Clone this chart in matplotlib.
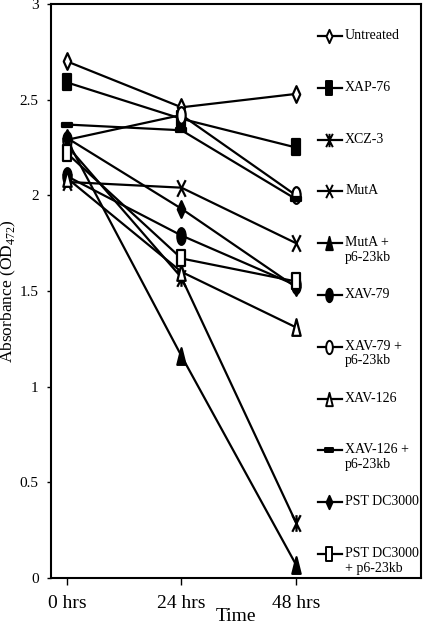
import numpy as np
import matplotlib
matplotlib.use("Agg")
import matplotlib.pyplot as plt
from matplotlib.path import Path
from matplotlib.transforms import Affine2D, offset_copy

plt.rcParams['font.family'] = ['Liberation Serif', 'DejaVu Serif']
plt.rcParams['mathtext.fontset'] = 'custom'
plt.rcParams['mathtext.rm'] = 'Liberation Serif'

# ---- data ----
hours = [0, 24, 48]
xtick_labels = ["0 hrs", "24 hrs", "48 hrs"]
series_names = ["Untreated", "XAP-76", "XCZ-3", "MutA", "MutA +\np6-23kb", "XAV-79",
                "XAV-79 +\np6-23kb", "XAV-126", "XAV-126 +\np6-23kb", "PST DC3000",
                "PST DC3000\n+ p6-23kb"]
untreated = [2.70, 2.46, 2.53]
xap76 = [2.59, 2.40, 2.25]
xcz3 = [2.26, 1.57, 0.29]
muta = [2.07, 2.04, 1.75]
muta_p6 = [2.29, 1.16, 0.07]
xav79 = [2.10, 1.79, 1.53]
xav79_p6 = [2.29, 2.42, 2.00]
xav126 = [2.09, 1.60, 1.31]
xav126_p6 = [2.37, 2.34, 1.98]
pst = [2.30, 1.93, 1.52]
pst_p6 = [2.22, 1.67, 1.55]
all_series = [untreated, xap76, xcz3, muta, muta_p6, xav79, xav79_p6, xav126,
              xav126_p6, pst, pst_p6]

# ---- custom tall markers ----
diamond = Path([(0, 1), (0.45, 0), (0, -1), (-0.45, 0), (0, 1)],
               [Path.MOVETO, Path.LINETO, Path.LINETO, Path.LINETO, Path.CLOSEPOLY])
rect = Path([(-0.5, -1), (0.5, -1), (0.5, 1), (-0.5, 1), (-0.5, -1)],
            [Path.MOVETO, Path.LINETO, Path.LINETO, Path.LINETO, Path.CLOSEPOLY])
tri = Path([(0, 1), (0.5, -1), (-0.5, -1), (0, 1)],
           [Path.MOVETO, Path.LINETO, Path.LINETO, Path.CLOSEPOLY])
ellipse = Affine2D().scale(0.5, 1.0).transform_path(Path.unit_circle())
xmark = Path([(-0.5, -1), (0.5, 1), (-0.5, 1), (0.5, -1)],
             [Path.MOVETO, Path.LINETO, Path.MOVETO, Path.LINETO])
star = Path([(-0.5, -1), (0.5, 1), (-0.5, 1), (0.5, -1), (0, -1), (0, 1)],
            [Path.MOVETO, Path.LINETO, Path.MOVETO, Path.LINETO, Path.MOVETO, Path.LINETO])
dash = Path([(-0.5, -0.2), (0.5, -0.2), (0.5, 0.2), (-0.5, 0.2), (-0.5, -0.2)],
            [Path.MOVETO, Path.LINETO, Path.LINETO, Path.LINETO, Path.CLOSEPOLY])

styles = [
    dict(marker=diamond, mfc='white', ms=12),
    dict(marker=rect, mfc='black', ms=12),
    dict(marker=star, mfc='none', ms=12),
    dict(marker=xmark, mfc='none', ms=12),
    dict(marker=tri, mfc='black', ms=12),
    dict(marker=ellipse, mfc='black', ms=12),
    dict(marker=ellipse, mfc='white', ms=12),
    dict(marker=tri, mfc='white', ms=12),
    dict(marker=dash, mfc='black', ms=7),
    dict(marker=diamond, mfc='black', ms=12),
    dict(marker=rect, mfc='white', ms=12),
]

fig = plt.figure(figsize=(4.25, 6.32), dpi=100)
ax = fig.add_axes([0.12, 0.0854, 0.8706, 0.9083])

for vals, st in zip(all_series, styles):
    ax.plot(hours, vals, color='black', lw=1.6, mec='black', mew=1.6, **st)

ax.set_xlim(-3.35, 74.2)
ax.set_ylim(0, 3)
ax.set_xticks(hours)
ax.set_xticklabels(xtick_labels, fontsize=14)
ax.set_yticks([0, 0.5, 1, 1.5, 2, 2.5, 3])
ax.set_yticklabels(["0", "0.5", "1", "1.5", "2", "2.5", "3"], fontsize=11)
ax.tick_params(axis='x', direction='out', length=5, width=1, pad=7)
ax.tick_params(axis='y', direction='out', length=3, width=1, pad=6)
for s in ax.spines.values():
    s.set_linewidth(1.5)
ax.set_xlabel("Time", fontsize=14, labelpad=-3)
ax.set_ylabel(r"Absorbance (OD$_{\mathrm{472}}$)", fontsize=12.5, labelpad=0)
ax.yaxis.set_label_coords(-0.088, 0.5)

# ---- manual legend (axes coords) ----
ax_h_px = 574.0
leg_x0, leg_xc, leg_x1 = 0.722, 0.752, 0.786
text_x = 0.795
y_top_px = 32.0
step_px = 51.8
for i, (name, st) in enumerate(zip(series_names, styles)):
    y = 1 - (y_top_px + i * step_px) / ax_h_px
    st2 = dict(st)
    st2['ms'] = st['ms'] * 0.8
    ax.plot([leg_x0, leg_xc, leg_x1], [y, y, y], transform=ax.transAxes,
            color='black', lw=1.6, mec='black', mew=1.4, markevery=[1],
            clip_on=False, **st2)
    tr = offset_copy(ax.transAxes, fig=fig, x=0, y=7, units='dots')
    ax.text(text_x, y, name, transform=tr, fontsize=10, va='top', ha='left',
            linespacing=1.15)

fig.savefig("out.png", dpi=100)
